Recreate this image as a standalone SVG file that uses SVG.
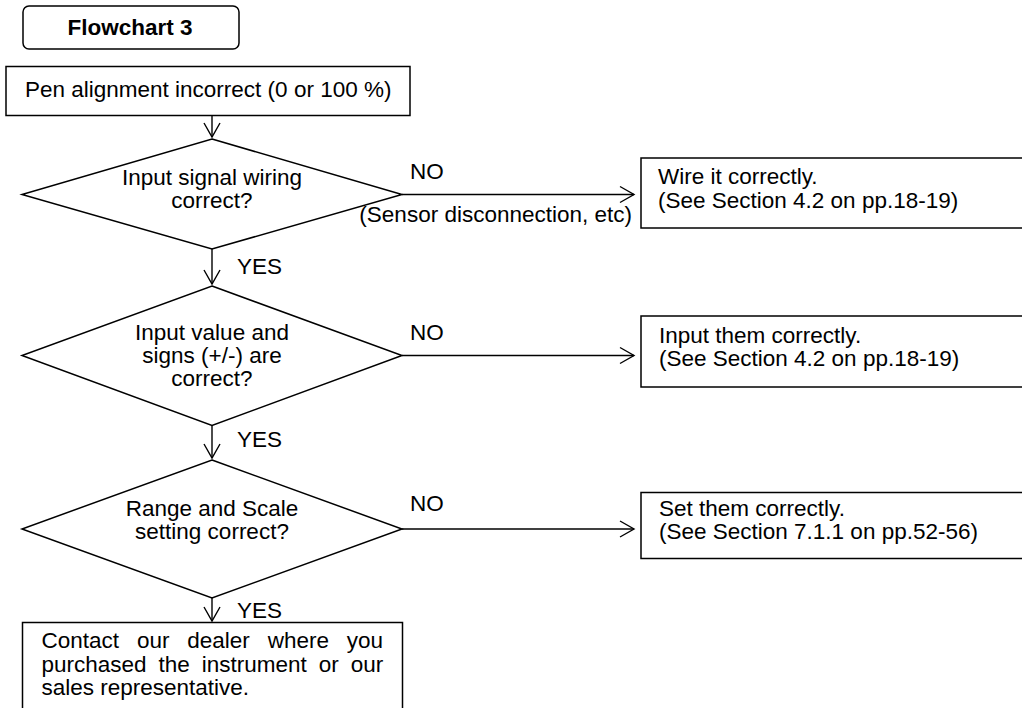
<svg xmlns="http://www.w3.org/2000/svg" width="1022" height="708" viewBox="0 0 1022 708">
<style>
  text { font-family: "Liberation Sans", Arial, sans-serif; font-size: 22.5px; fill: #000; }
  .c { text-anchor: middle; }
  .b { font-weight: bold; }
  .shape { fill: #fff; stroke: #000; stroke-width: 1.5; }
  .conn { fill: none; stroke: #000; stroke-width: 1.4; }
</style>
<defs>
  <marker id="arr" markerUnits="userSpaceOnUse" markerWidth="20" markerHeight="20" viewBox="-16 -10 20 20" refX="0" refY="0" orient="auto">
    <polyline points="-14,-8 0,0 -14,8" fill="none" stroke="#000" stroke-width="1.4"/>
  </marker>
</defs>
<rect width="1022" height="708" fill="#fff"/>

<g id="title">
  <rect class="shape" x="23" y="6" width="216" height="43" rx="6"/>
  <text class="c b" x="130" y="35">Flowchart 3</text>
</g>

<g id="start">
  <rect class="shape" x="6" y="66.5" width="404" height="49"/>
  <text x="25" y="97">Pen alignment incorrect (0 or 100 %)</text>
</g>

<g id="d1">
  <polygon class="shape" points="212,139 402,194.5 212,249 22,194.5"/>
  <text class="c" x="212" y="185">Input signal wiring</text>
  <text class="c" x="212" y="208">correct?</text>
</g>

<g id="r1">
  <rect class="shape" x="641" y="158" width="400" height="70"/>
  <text x="658" y="184">Wire it correctly.</text>
  <text x="658" y="208">(See Section 4.2 on pp.18-19)</text>
</g>

<g id="d2">
  <polygon class="shape" points="212,286 402,355.5 212,425.5 22,355.5"/>
  <text class="c" x="212" y="340">Input value and</text>
  <text class="c" x="212" y="363">signs (+/-) are</text>
  <text class="c" x="212" y="386">correct?</text>
</g>

<g id="r2">
  <rect class="shape" x="641" y="316" width="400" height="71"/>
  <text x="659" y="343">Input them correctly.</text>
  <text x="659" y="366">(See Section 4.2 on pp.18-19)</text>
</g>

<g id="d3">
  <polygon class="shape" points="212,460 402,529 212,598 22,529"/>
  <text class="c" x="212" y="516">Range and Scale</text>
  <text class="c" x="212" y="539">setting correct?</text>
</g>

<g id="r3">
  <rect class="shape" x="641" y="492.5" width="400" height="66"/>
  <text x="659" y="516">Set them correctly.</text>
  <text x="659" y="539">(See Section 7.1.1 on pp.52-56)</text>
</g>

<g id="end">
  <rect class="shape" x="22.5" y="622.5" width="380" height="100"/>
  <text x="41.5" y="648" style="word-spacing:11.6px">Contact our dealer where you</text>
  <text x="41.5" y="672" style="word-spacing:5.7px">purchased the instrument or our</text>
  <text x="41.5" y="695">sales representative.</text>
</g>

<g id="connectors">
  <line class="conn" x1="212" y1="116" x2="212" y2="137" marker-end="url(#arr)"/>
  <line class="conn" x1="212" y1="249" x2="212" y2="284" marker-end="url(#arr)"/>
  <line class="conn" x1="212" y1="425.5" x2="212" y2="458" marker-end="url(#arr)"/>
  <line class="conn" x1="212" y1="598" x2="212" y2="621" marker-end="url(#arr)"/>
  <line class="conn" x1="402" y1="194.5" x2="634" y2="194.5" marker-end="url(#arr)"/>
  <line class="conn" x1="402" y1="355.5" x2="634" y2="355.5" marker-end="url(#arr)"/>
  <line class="conn" x1="402" y1="529" x2="634" y2="529" marker-end="url(#arr)"/>
  <text x="237" y="274">YES</text>
  <text x="237" y="447">YES</text>
  <text x="237" y="618">YES</text>
  <text x="410" y="179">NO</text>
  <text x="410" y="340">NO</text>
  <text x="410" y="511">NO</text>
  <text x="632" y="222" style="text-anchor:end">(Sensor disconnection, etc)</text>
</g>
</svg>
